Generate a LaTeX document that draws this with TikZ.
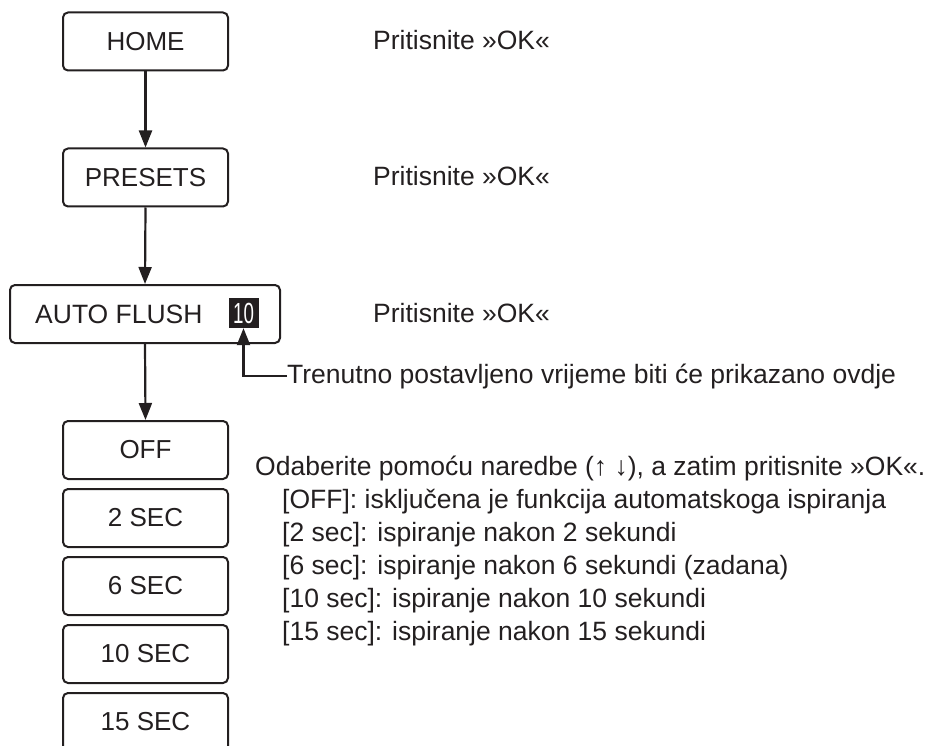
\documentclass[tikz,border=0pt]{standalone}
\usepackage{fontspec}
\setmainfont{Liberation Sans}
\usetikzlibrary{arrows.meta}
\definecolor{ink}{HTML}{231F20}
\tikzset{
  x=1pt,y=-1pt,
  box/.style={draw=ink,line width=2pt,rounded corners=5pt,minimum height=58pt,inner sep=0pt,text=ink,font=\fontsize{26}{30}\selectfont},
  narrowbox/.style={box,minimum width=165pt},
  arr/.style={draw=ink,line width=2.2pt,-{Triangle[length=17pt,width=13pt]}},
  txt/.style={anchor=base west,inner sep=0pt,text=ink,font=\fontsize{26.5}{30}\selectfont},
  badge/.style={fill=ink,text=white,inner sep=0pt,minimum width=30pt,minimum height=30pt,font=\fontsize{26}{30}\selectfont}
}
\begin{document}
\begin{tikzpicture}
\useasboundingbox (0,0) rectangle (926,746);
\clip (0,0) rectangle (926,746);
\node[narrowbox] (home) at (145.5,41.5) {HOME};
\node[narrowbox] (presets) at (145.5,177.5) {PRESETS};
\node[box,minimum width=270pt] (auto) at (145,314) {};
\node[txt,anchor=west] (autotxt) at (35,314) {AUTO FLUSH};
\node[badge] (badge) at (243.5,313) {\scalebox{0.72}[1.12]{10}};
\node[narrowbox] (off) at (145.5,450) {OFF};
\node[narrowbox] (s2) at (145.5,518) {2 SEC};
\node[narrowbox] (s6) at (145.5,586) {6 SEC};
\node[narrowbox] (s10) at (145.5,654) {10 SEC};
\node[narrowbox] (s15) at (145.5,722) {15 SEC};
\draw[arr] (home.south) -- (presets.north);
\draw[arr] (presets.south) -- (auto.north);
\draw[arr] (auto.south) -- (off.north);
\node[txt] (p1) at (373,50) {Pritisnite »OK«};
\node[txt] (p2) at (373,186) {Pritisnite »OK«};
\node[txt] (p3) at (373,322) {Pritisnite »OK«};
\node[txt,anchor=west,inner sep=0pt] (tr) at (287,376) {Trenutno postavljeno vrijeme biti će prikazano ovdje};
\draw[arr] (tr.west) -| (badge.south);
\node[txt] (o0) at (255,475) {Odaberite pomoću naredbe (↑ ↓), a zatim pritisnite »OK«.};
\node[txt] (o1) at (282,508) {[OFF]: isključena je funkcija automatskoga ispiranja};
\node[txt] (o2) at (282,541) {[2 sec]: ispiranje nakon 2 sekundi};
\node[txt] (o3) at (282,574) {[6 sec]: ispiranje nakon 6 sekundi (zadana)};
\node[txt] (o4) at (282,607) {[10 sec]: ispiranje nakon 10 sekundi};
\node[txt] (o5) at (282,640) {[15 sec]: ispiranje nakon 15 sekundi};
\end{tikzpicture}
\end{document}
